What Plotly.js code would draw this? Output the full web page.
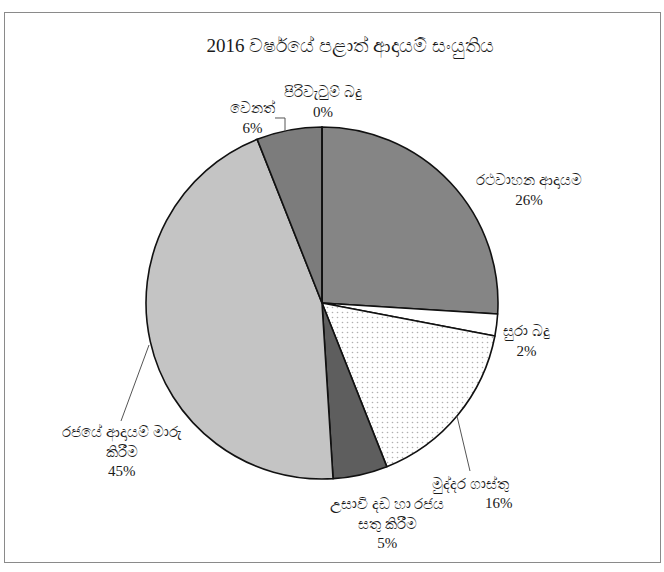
<!DOCTYPE html>
<html>
<head>
<meta charset="utf-8">
<script src="https://cdn.plot.ly/plotly-3.0.1.min.js"></script>
<style>
  html, body { margin: 0; padding: 0; background: #ffffff; }
  #chart { position: absolute; left: 0; top: 0; width: 664px; height: 572px; }
  #frame { position: absolute; left: 4px; top: 12px; width: 655px; height: 549px; border: 1px solid #8a8a8a; pointer-events: none; }
</style>
</head>
<body>
<div id="chart"></div>
<div id="frame"></div>
<script>
const chartTitle = "2016 වර්ෂයේ පළාත් ආදායම් සංයුතිය";
const categories = [
  "රථවාහන ආදායම",
  "සුරා බදු",
  "මුද්දර ගාස්තු",
  "උසාවි දඩ හා රජය<br>සතු කිරීම",
  "රජයේ ආදායම් මාරු<br>කිරීම",
  "වෙනත්",
  "පිරිවැටුම් බදු"
];
const values = [26, 2, 16, 5, 45, 6, 0];
const sliceColors = ["#858585", "#ffffff", "#ffffff", "#5e5e5e", "#c4c4c4", "#7c7c7c", "#999999"];
const slicePatterns = ["", "", ".", "", "", "", ""];

// ---- layout (pixel positions on the 664x572 page) ----
const W = 664, H = 572;
const cx = 322, cy = 303, r = 176;
const px = x => x / W;
const py = y => 1 - y / H;

// label placement: centre of label block, optional separate percent position
const labelPlace = [
  { x: 529, y: 190 },
  { x: 526, y: 341 },
  { x: 470, y: 484, pctX: 499, pctY: 503 },
  { x: 387, y: 523 },
  { x: 122, y: 451 },
  { x: 252, y: 118 },
  { x: 323, y: 102 }
];
const leaderLines = [
  "M 275 118 L 285 118 L 285 131",
  "M 149 345 L 121 421",
  "M 457 416 L 470 471"
];

const total = values.reduce((a, b) => a + b, 0);
const pctText = values.map(v => Math.round(v / total * 100) + "%");

const labelFont = { family: "Liberation Serif, Noto Sans, serif", size: 15, color: "#1a1a1a" };

const annotations = [];
categories.forEach((c, i) => {
  const p = labelPlace[i];
  if (p.pctX !== undefined) {
    annotations.push({ text: c, x: px(p.x), y: py(p.y), xref: "paper", yref: "paper",
      showarrow: false, xanchor: "center", yanchor: "middle", font: labelFont });
    annotations.push({ text: pctText[i], x: px(p.pctX), y: py(p.pctY), xref: "paper", yref: "paper",
      showarrow: false, xanchor: "center", yanchor: "middle", font: labelFont });
  } else {
    annotations.push({ text: c + "<br>" + pctText[i], x: px(p.x), y: py(p.y), xref: "paper", yref: "paper",
      showarrow: false, xanchor: "center", yanchor: "middle", align: "center", font: labelFont });
  }
});

const toPaperPath = d => d.replace(/(\d+(?:\.\d+)?) (\d+(?:\.\d+)?)/g, (m, a, b) => px(+a).toFixed(5) + " " + py(+b).toFixed(5));
const shapes = leaderLines.map(d => ({
  type: "path", xref: "paper", yref: "paper", path: toPaperPath(d),
  line: { color: "#555555", width: 1 }
}));

const trace = {
  type: "pie",
  labels: categories,
  values: values,
  sort: false,
  direction: "clockwise",
  rotation: 0,
  textinfo: "none",
  marker: {
    colors: sliceColors,
    line: { color: "#111111", width: 1.6 },
    pattern: { shape: slicePatterns, fgcolor: "#b0b0b0", bgcolor: "#ffffff", size: 5, solidity: 0.08 }
  },
  hoverinfo: "label+percent",
  domain: { x: [px(cx - r), px(cx + r)], y: [py(cy + r), py(cy - r)] },
  automargin: false,
  showlegend: false
};

const layout = {
  width: W,
  height: H,
  margin: { l: 0, r: 0, t: 0, b: 0 },
  paper_bgcolor: "#ffffff",
  showlegend: false,
  annotations: annotations,
  shapes: shapes,
  title: {
    text: chartTitle,
    font: { family: "Liberation Serif, Noto Sans, serif", size: 19, color: "#1a1a1a" },
    x: px(350), xanchor: "center",
    y: py(45), yanchor: "middle"
  }
};

Plotly.newPlot("chart", [trace], layout, { displayModeBar: false, staticPlot: true });
</script>
</body>
</html>
